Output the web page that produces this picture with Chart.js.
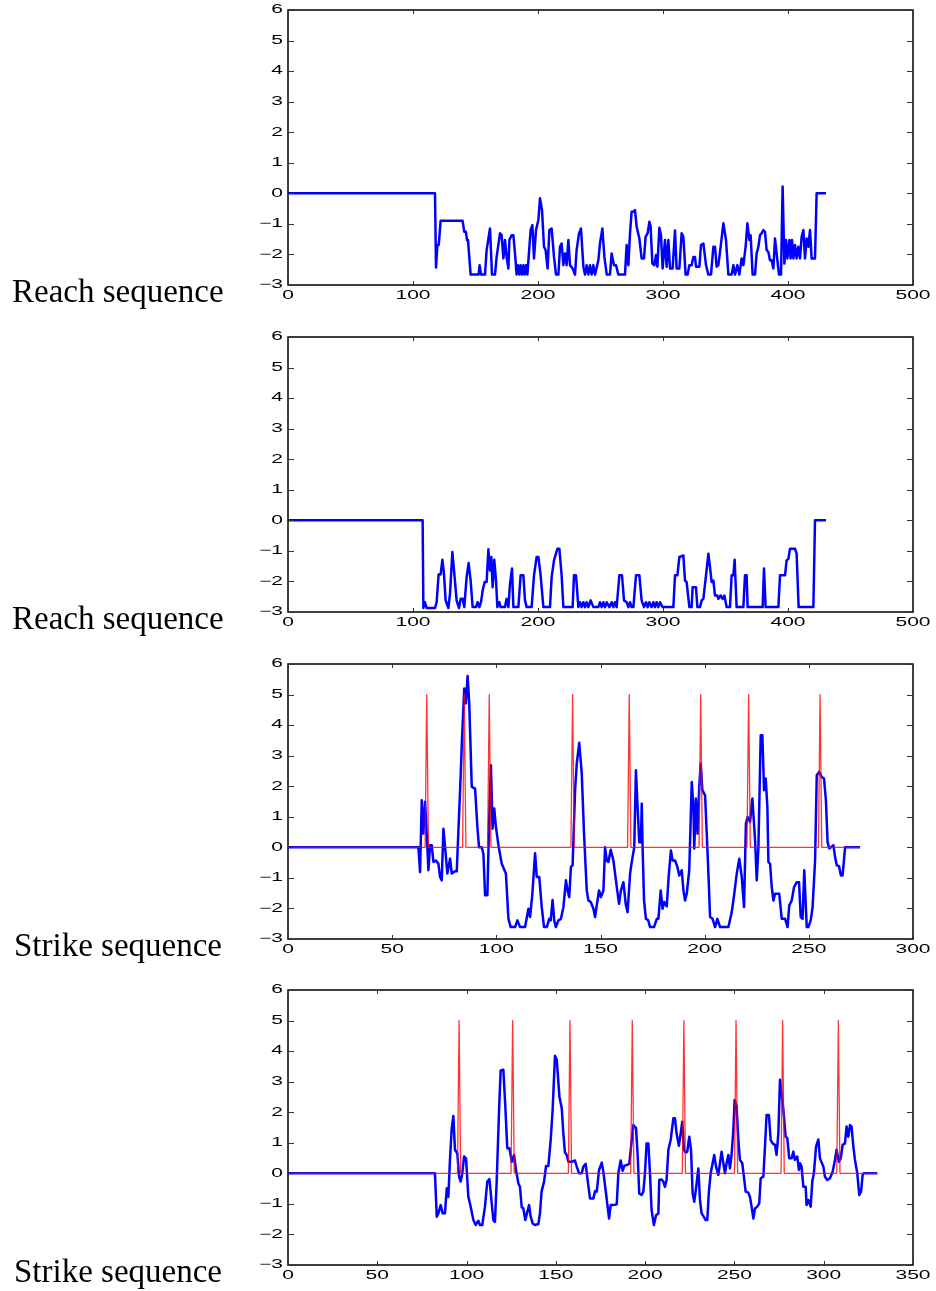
<!DOCTYPE html>
<html>
<head>
<meta charset="utf-8">
<script src="https://cdn.jsdelivr.net/npm/chart.js@4.4.1/dist/chart.umd.min.js"></script>
<style>
  html, body { margin: 0; padding: 0; background: #fff; overflow: hidden; }
  canvas { position: absolute; left: 0; }
</style>
</head>
<body>
<canvas id="c1" width="936" height="320" style="top:0px"></canvas>
<canvas id="c2" width="936" height="320" style="top:327px"></canvas>
<canvas id="c3" width="936" height="320" style="top:654px"></canvas>
<canvas id="c4" width="936" height="320" style="top:980px"></canvas>
<script>
// tick labels
const yTicks = [-3, -2, -1, 0, 1, 2, 3, 4, 5, 6];
const reachXTicks = [0, 100, 200, 300, 400, 500];
const strikeAXTicks = [0, 50, 100, 150, 200, 250, 300];
const strikeBXTicks = [0, 50, 100, 150, 200, 250, 300, 350];

// panel 1 - reach sequence
const reachA = [[0,0],[117.6,0],[118.4,-2.43],[119.5,-1.69],[120.6,-1.69],[122.1,-0.9],[139.7,-0.9],[141.0,-1.26],[142.3,-1.26],[143.2,-1.53],[144.0,-1.53],[146.1,-2.66],[152.5,-2.66],[153.3,-2.35],[154.4,-2.66],[157.6,-2.66],[158.9,-1.86],[161.6,-1.15],[163.2,-2.66],[165.6,-2.66],[166.9,-2.08],[169.6,-1.31],[170.9,-1.37],[172.3,-2.13],[173.6,-1.53],[174.9,-2.08],[176.3,-2.46],[177.1,-1.53],[178.9,-1.37],[180.3,-1.37],[181.6,-1.97],[182.9,-2.66],[184.0,-2.35],[185.1,-2.66],[186.1,-2.35],[187.2,-2.66],[188.3,-2.35],[189.3,-2.66],[190.4,-2.35],[191.5,-2.66],[194.1,-1.2],[195.5,-1.04],[196.8,-2.13],[198.4,-1.2],[200.3,-0.87],[201.6,-0.16],[203.2,-0.55],[204.8,-1.75],[206.1,-1.86],[207.7,-2.46],[209.1,-1.2],[210.9,-1.15],[212.8,-2.08],[214.4,-2.66],[216.3,-2.66],[217.6,-1.75],[218.9,-1.64],[220.3,-2.35],[221.6,-1.97],[222.9,-2.35],[224.3,-1.53],[225.6,-2.35],[227.7,-2.46],[229.6,-2.66],[230.9,-1.86],[232.8,-1.31],[234.4,-1.15],[236.3,-2.4],[237.6,-2.66],[238.9,-2.35],[240.3,-2.66],[241.6,-2.35],[242.9,-2.66],[244.3,-2.35],[245.6,-2.66],[248.3,-2.19],[249.6,-1.64],[251.5,-1.15],[253.1,-2.08],[255.0,-2.66],[257.6,-2.66],[258.9,-1.97],[260.8,-2.35],[262.4,-2.35],[264.3,-2.66],[269.6,-2.66],[270.9,-1.69],[272.3,-2.35],[273.6,-1.31],[274.9,-0.6],[276.3,-0.6],[277.6,-0.55],[278.9,-1.09],[281.1,-1.48],[282.9,-2.13],[284.8,-2.13],[286.1,-1.42],[287.7,-1.31],[289.1,-0.93],[290.1,-1.09],[291.5,-2.3],[293.1,-2.35],[294.4,-2.02],[295.5,-2.4],[297.1,-1.13],[298.4,-1.37],[299.7,-2.46],[301.6,-1.53],[302.9,-2.4],[304.3,-1.53],[305.6,-2.46],[307.7,-2.46],[309.6,-1.22],[310.9,-2.46],[313.1,-2.46],[314.9,-1.31],[316.3,-1.42],[318.1,-2.66],[319.7,-2.66],[321.1,-2.35],[322.9,-2.35],[324.3,-2.08],[325.6,-2.08],[326.4,-2.4],[329.1,-2.4],[330.4,-1.69],[332.3,-1.64],[334.4,-2.35],[336.3,-2.66],[338.4,-2.66],[340.3,-1.75],[341.6,-1.75],[342.9,-2.4],[344.3,-2.35],[346.1,-1.75],[348.3,-0.98],[350.4,-1.53],[352.3,-2.66],[354.9,-2.66],[356.3,-2.35],[357.6,-2.66],[359.5,-2.35],[361.1,-2.66],[362.9,-2.13],[364.3,-2.35],[366.1,-1.75],[367.5,-0.98],[369.1,-1.53],[370.1,-1.37],[371.7,-2.66],[373.6,-2.66],[374.9,-1.97],[376.3,-1.75],[377.6,-1.37],[378.9,-1.31],[380.3,-1.2],[381.6,-1.26],[382.9,-1.86],[384.3,-1.92],[385.6,-2.19],[386.9,-2.19],[388.3,-2.46],[389.6,-1.48],[391.5,-2.19],[392.8,-2.66],[394.4,-2.66],[395.7,0.22],[397.1,-2.3],[398.4,-1.53],[399.5,-2.13],[401.1,-1.53],[402.1,-2.13],[403.2,-1.53],[404.3,-2.13],[405.6,-1.69],[406.9,-2.13],[408.3,-1.75],[409.6,-2.13],[410.9,-1.42],[412.3,-1.2],[413.6,-2.13],[414.9,-1.48],[416.3,-1.75],[417.6,-1.2],[418.9,-2.13],[421.6,-2.13],[422.9,0],[430.4,0]];

// panel 2 - reach sequence
const reachB = [[0,0],[107.7,0],[108.3,-2.87],[109.6,-2.68],[110.9,-2.87],[117.6,-2.87],[118.9,-2.68],[120.5,-1.77],[122.1,-1.77],[123.5,-1.29],[124.8,-1.77],[126.1,-2.62],[128.3,-2.87],[129.6,-2.4],[131.5,-1.04],[133.1,-1.77],[134.9,-2.62],[136.8,-2.87],[138.1,-2.57],[139.7,-2.57],[141.0,-2.84],[142.9,-1.86],[144.5,-1.4],[146.1,-1.97],[147.7,-2.84],[150.4,-2.84],[151.7,-2.68],[153.1,-2.84],[154.4,-2.68],[155.7,-2.3],[157.3,-2.02],[158.9,-2.02],[160.3,-0.95],[161.6,-1.64],[162.7,-1.2],[163.7,-2.19],[165.0,-1.29],[166.4,-1.97],[167.5,-2.84],[169.1,-2.68],[170.1,-2.84],[173.6,-2.84],[174.9,-2.57],[176.3,-2.84],[177.6,-2.08],[179.2,-1.58],[180.3,-2.84],[184.3,-2.84],[186.1,-1.8],[188.3,-1.8],[189.6,-2.62],[190.9,-2.84],[194.9,-2.84],[196.8,-1.8],[198.9,-1.2],[200.3,-1.2],[202.1,-1.8],[204.3,-2.84],[209.6,-2.84],[210.9,-1.86],[212.8,-1.31],[215.5,-0.93],[217.1,-0.93],[218.9,-1.8],[220.3,-2.84],[227.7,-2.84],[228.8,-1.8],[230.4,-1.8],[232.3,-2.84],[233.6,-2.68],[234.9,-2.84],[236.3,-2.68],[237.6,-2.84],[238.9,-2.68],[240.3,-2.84],[242.1,-2.62],[244.3,-2.84],[248.3,-2.84],[249.6,-2.68],[250.9,-2.84],[252.3,-2.68],[253.6,-2.84],[255.0,-2.68],[257.1,-2.84],[258.9,-2.68],[260.3,-2.84],[261.6,-2.68],[262.9,-2.84],[265.1,-1.8],[267.2,-1.8],[268.8,-2.62],[270.9,-2.68],[272.3,-2.84],[273.6,-2.68],[274.9,-2.84],[276.3,-2.84],[278.4,-1.8],[281.1,-1.8],[282.9,-2.62],[284.8,-2.84],[286.4,-2.68],[287.7,-2.84],[289.1,-2.68],[290.9,-2.84],[292.3,-2.68],[293.6,-2.84],[294.9,-2.68],[296.3,-2.84],[297.6,-2.68],[299.7,-2.84],[308.3,-2.84],[309.6,-1.8],[311.5,-1.8],[313.1,-1.2],[316.3,-1.15],[317.6,-1.97],[318.9,-2.02],[321.1,-2.84],[322.9,-2.84],[323.7,-2.19],[326.4,-2.19],[327.5,-2.84],[329.6,-2.84],[330.9,-2.62],[332.3,-2.57],[334.4,-1.8],[336.3,-1.09],[337.6,-1.53],[338.9,-2.02],[340.3,-1.97],[341.6,-2.46],[343.5,-2.46],[344.3,-2.57],[346.1,-2.46],[347.7,-2.57],[349.1,-2.46],[350.9,-2.84],[353.6,-2.84],[354.9,-1.8],[356.3,-1.8],[357.3,-1.29],[358.9,-2.84],[364.3,-2.84],[365.6,-1.8],[366.9,-1.8],[367.7,-2.84],[379.7,-2.84],[380.8,-1.58],[382.1,-2.84],[392.3,-2.84],[393.6,-1.8],[397.6,-1.8],[398.9,-1.31],[400.3,-1.26],[401.6,-0.93],[405.6,-0.93],[406.9,-1.09],[408.5,-2.84],[420.3,-2.84],[421.6,0],[430.4,0]];

// panel 3 - strike sequence (blue trace and red markers)
const strikeA = [[0,0],[62.6,0],[63.4,-0.81],[64.2,1.54],[65.0,0.45],[65.8,1.49],[66.6,0.45],[67.4,-0.75],[68.2,0.07],[69.0,0.07],[69.8,-0.48],[71.0,-0.43],[72.2,-0.54],[73.0,-0.97],[73.8,-1.08],[74.6,0.61],[75.4,0],[76.5,-0.86],[77.8,-0.37],[78.6,-0.86],[80.2,-0.78],[81.0,-0.78],[82.6,1.87],[83.5,3.51],[84.6,5.2],[85.4,4.71],[86.2,5.61],[87.0,4.71],[88.2,1.98],[89.8,1.92],[90.9,0.67],[91.7,0],[93.0,0],[93.8,-0.21],[94.6,-1.57],[95.7,-1.57],[96.6,0.99],[97.4,2.69],[98.2,0.61],[99.0,1.27],[99.8,0.67],[101.0,0.07],[102.6,-0.54],[104.6,-0.86],[105.8,-2.34],[106.9,-2.61],[109.0,-2.61],[110.1,-2.39],[111.4,-2.61],[113.8,-2.61],[115.4,-2.01],[116.2,-2.28],[117.3,-1.52],[118.6,-0.19],[119.4,-0.97],[120.6,-0.97],[121.8,-1.96],[122.9,-2.61],[124.2,-2.61],[125.4,-2.34],[126.1,-2.39],[127.0,-1.72],[127.8,-2.39],[128.6,-2.61],[129.8,-2.39],[131.0,-2.34],[132.2,-1.96],[133.4,-1.08],[134.2,-1.41],[135.0,-1.63],[135.8,-0.64],[136.6,-0.59],[137.8,1.87],[138.6,2.74],[139.8,3.42],[141.0,2.42],[142.1,0.45],[143.4,-1.41],[144.2,-1.74],[145.3,-1.79],[146.6,-2.01],[147.4,-2.28],[148.2,-1.9],[149.3,-1.41],[150.2,-1.63],[151.4,-1.41],[152.2,0],[153.0,-0.43],[153.8,-0.48],[154.9,-0.08],[156.2,-0.43],[157.4,-1.08],[158.9,-1.85],[159.8,-1.41],[161.0,-1.14],[162.1,-1.85],[163.0,-2.12],[164.2,-0.86],[165.0,-0.48],[166.2,0],[167.0,2.52],[167.8,1.32],[168.6,0.17],[169.4,0.17],[169.8,1.43],[170.2,0],[170.9,-1.74],[171.8,-2.34],[172.9,-2.39],[173.8,-2.61],[175.7,-2.61],[177.0,-2.34],[177.8,-2.34],[178.9,-1.41],[179.8,-2.01],[180.6,-1.79],[181.8,-1.93],[182.7,-0.97],[183.8,-0.1],[184.6,-0.43],[185.8,-0.43],[186.9,-0.64],[187.8,-0.92],[189.0,-0.75],[189.8,-1.41],[190.6,-1.74],[191.4,-1.52],[192.6,-0.75],[193.8,2.14],[194.6,1.32],[195.0,-0.04],[195.8,1.6],[196.6,0.45],[197.4,1.98],[198.1,2.74],[198.9,1.87],[200.2,1.7],[201.0,0.45],[201.8,-0.86],[202.6,-2.28],[203.8,-2.34],[205.0,-2.61],[206.1,-2.34],[207.4,-2.61],[211.4,-2.61],[213.0,-2.12],[214.2,-1.52],[215.4,-0.86],[216.6,-0.37],[217.8,-0.97],[218.9,-1.96],[219.8,0.78],[220.6,0.99],[221.8,0.83],[222.9,1.6],[224.2,0.23],[225.0,-1.08],[225.8,0],[226.9,3.67],[227.7,3.67],[228.5,1.87],[229.3,2.25],[230.1,1.32],[230.6,-0.48],[231.4,-0.54],[232.2,-1.3],[233.0,-1.74],[233.8,-1.52],[235.8,-1.52],[237.0,-2.34],[238.6,-2.34],[239.8,-2.61],[240.6,-1.9],[241.8,-1.74],[242.9,-1.3],[244.2,-1.14],[245.3,-1.14],[246.1,-2.28],[247.0,-2.34],[247.8,-0.75],[249.0,-2.61],[249.8,-2.61],[250.9,-2.39],[251.8,-1.96],[253.0,-0.43],[253.8,2.36],[255.0,2.47],[256.2,2.3],[257.3,2.25],[258.2,1.54],[259.0,0.17],[259.8,-0.04],[260.6,0],[261.8,0.07],[262.6,-0.32],[263.4,-0.59],[264.5,-0.62],[265.4,-0.92],[266.2,-0.92],[267.4,0],[274.6,0]];
const strikeAMarks = [[0,0],[65.8,0],[66.6,5],[67.4,0],[83.8,0],[84.6,5],[85.4,0],[95.8,0],[96.6,5],[97.4,0],[135.8,0],[136.6,5],[137.4,0],[163.0,0],[163.8,5],[164.6,0],[197.3,0],[198.1,5],[198.9,0],[220.3,0],[221.1,5],[221.9,0],[254.6,0],[255.4,5],[256.2,0],[274.6,0]];

// panel 4 - strike sequence (blue trace and red markers)
const strikeB = [[0,0],[82.3,0],[83.3,-1.42],[84.2,-1.31],[85.5,-1.04],[86.6,-1.31],[87.9,-1.31],[88.9,-0.49],[89.8,-0.77],[90.7,0.44],[91.7,1.48],[92.6,1.88],[93.5,0.77],[94.8,0.66],[95.8,-0.11],[96.7,-0.27],[97.6,0],[98.6,0.55],[99.7,0.49],[101.0,-0.77],[102.3,-1.09],[103.8,-1.53],[105.1,-1.69],[106.6,-1.55],[107.5,-1.69],[108.8,-1.69],[110.3,-1.09],[111.6,-0.27],[112.8,-0.19],[114.0,-0.93],[115.0,-1.53],[115.9,-1.59],[116.9,-0.22],[118.2,2.08],[119.1,3.37],[120.6,3.39],[121.7,2.19],[122.8,0.82],[124.0,0.82],[125.3,0.38],[126.6,0.6],[127.7,0.11],[129.0,-0.33],[129.9,-0.44],[130.9,-1.11],[131.8,-1.15],[132.9,-1.53],[133.8,-1.31],[135.0,-1.04],[135.9,-1.42],[137.0,-1.64],[138.3,-1.69],[140.2,-1.66],[141.1,-1.31],[142.0,-0.6],[143.4,-0.27],[144.5,0.24],[145.8,0.24],[147.1,1.09],[148.2,2.08],[149.5,3.85],[150.5,3.72],[152.0,2.51],[153.3,2.13],[154.2,1.31],[155.1,0.68],[156.1,0.6],[157.0,0.38],[158.9,0.38],[160.7,0.42],[161.7,0.22],[163.0,0],[164.5,0],[165.4,0.22],[166.7,0.31],[167.8,-0.22],[169.1,-0.82],[171.0,-0.82],[172.0,-0.58],[172.9,-0.6],[174.2,0.11],[175.7,0.35],[176.6,0.05],[178.1,-0.66],[179.8,-1.48],[180.7,-1.04],[182.2,-1.04],[184.1,-1.01],[185.0,0],[186.3,0.42],[187.4,0.08],[188.4,0.25],[189.6,0.27],[191.1,0.31],[192.5,1.09],[193.4,1.58],[194.9,1.48],[195.8,0.6],[196.7,-0.66],[198.0,-0.71],[199.0,-0.6],[199.9,0],[200.8,0.98],[201.8,0.98],[202.7,0],[203.6,-1.2],[204.9,-1.69],[206.1,-1.37],[207.4,-1.31],[207.9,-0.22],[209.2,-0.2],[210.2,-0.27],[211.1,-0.44],[212.0,-0.22],[213.0,0.77],[214.3,1.09],[215.8,1.8],[216.7,1.8],[217.6,1.31],[218.9,0.9],[219.9,1.31],[220.8,1.69],[221.7,0.77],[222.7,0.68],[223.6,0.71],[224.7,1.2],[225.7,0.77],[226.6,-0.66],[227.5,-0.93],[228.5,-0.49],[229.8,0.16],[230.7,-0.87],[231.6,-1.31],[232.6,-1.4],[233.9,-1.53],[234.8,-1.53],[235.7,-0.6],[236.7,0],[237.8,0.33],[238.7,0.6],[239.7,0.22],[241.0,-0.05],[241.9,0.33],[242.8,0.71],[243.8,0.33],[244.7,0],[245.6,0.33],[246.6,0.6],[247.5,0.16],[248.4,0.6],[249.4,1.42],[250.1,2.4],[251.2,2.19],[252.2,1.09],[253.1,0.44],[254.4,0.33],[255.3,-0.11],[256.3,-0.6],[257.8,-0.63],[258.7,-0.77],[259.6,-1.09],[260.6,-1.48],[261.5,-1.15],[262.8,-1.09],[263.9,-0.98],[264.7,-0.16],[266.2,-0.11],[267.1,0.87],[268.0,1.91],[269.3,1.91],[270.3,1.09],[271.4,0.98],[272.7,0.93],[273.6,0.6],[274.6,1.31],[275.5,3.06],[276.4,2.62],[277.4,2.08],[278.7,1.2],[279.6,1.15],[280.7,0.49],[282.0,0.49],[283.0,0.71],[283.9,0.44],[285.2,0.55],[286.1,0.11],[286.7,0.33],[287.6,0.22],[288.6,-0.44],[289.9,-0.44],[290.4,-1.04],[291.4,-0.87],[292.7,-1.09],[293.6,-0.27],[294.5,0],[295.7,0.87],[297.0,1.11],[297.9,0.49],[299.8,0.22],[300.7,-0.11],[302.0,-0.22],[303.5,-0.16],[305.0,0.05],[306.3,0.44],[307.2,0.77],[308.5,0.38],[309.5,0.49],[310.6,0.93],[311.9,0.98],[312.8,1.53],[313.8,1.2],[314.7,1.58],[315.6,1.53],[316.6,0.87],[317.5,0.44],[318.8,0],[319.9,-0.71],[320.9,-0.6],[321.8,-0.05],[322.5,0],[330.0,0]];
const strikeBMarks = [[0,0],[94.9,0],[95.8,5],[96.7,0],[124.9,0],[125.8,5],[126.7,0],[157.0,0],[157.9,5],[158.8,0],[191.9,0],[192.8,5],[193.7,0],[220.8,0],[221.7,5],[222.6,0],[250.0,0],[250.9,5],[251.8,0],[276.1,0],[277.0,5],[277.9,0],[307.3,0],[308.2,5],[309.1,0],[330,0]];

function fmt(v) {
    return v < 0 ? '\u2212' + Math.abs(v) : String(v);
}

// stretched tick text like the original export
function wideText(ctx, txt, x, y, align, base) {
    ctx.save();
    ctx.translate(x, y);
    ctx.scale(1.75, 1);
    ctx.textAlign = align;
    ctx.textBaseline = base;
    ctx.fillText(txt, 0, 0);
    ctx.restore();
}

const boxPlugin = {
    id: 'box',
    afterDraw(chart, args, opts) {
        const ctx = chart.ctx;
        const a = chart.chartArea;
        const xs = chart.scales.x, ys = chart.scales.y;
        ctx.save();
        ctx.strokeStyle = '#000';
        ctx.lineWidth = 1.5;
        ctx.strokeRect(a.left, a.top, a.right - a.left, a.bottom - a.top);

        ctx.strokeStyle = '#333';
        ctx.lineWidth = 1;
        ctx.beginPath();
        opts.xTicks.forEach(v => {
            const px = Math.round(xs.getPixelForValue(v)) + 0.5;
            ctx.moveTo(px, a.bottom); ctx.lineTo(px, a.bottom - 4);
            ctx.moveTo(px, a.top); ctx.lineTo(px, a.top + 4);
        });
        yTicks.forEach(v => {
            const py = Math.round(ys.getPixelForValue(v)) + 0.5;
            ctx.moveTo(a.left, py); ctx.lineTo(a.left + 6, py);
            ctx.moveTo(a.right, py); ctx.lineTo(a.right - 6, py);
        });
        ctx.stroke();

        ctx.fillStyle = '#000';
        ctx.font = '12px "Liberation Sans"';
        yTicks.forEach(v => {
            wideText(ctx, fmt(v), a.left - 5, ys.getPixelForValue(v), 'right', 'middle');
        });
        opts.xTicks.forEach(v => {
            wideText(ctx, fmt(v), xs.getPixelForValue(v), a.bottom + 5, 'center', 'top');
        });

        ctx.font = '33px "Liberation Serif"';
        ctx.textAlign = 'left';
        ctx.textBaseline = 'alphabetic';
        ctx.fillText(opts.title, opts.titleX, 302);
        ctx.restore();
    }
};

function toXY(pairs) {
    return pairs.map(p => ({ x: p[0], y: p[1] }));
}

function makePanel(id, title, titleX, xMax, xTicks, blue, red) {
    const datasets = [];
    if (red) {
        datasets.push({
            data: toXY(red),
            borderColor: 'rgba(255, 0, 0, 0.8)',
            borderWidth: 1.3,
            borderJoinStyle: 'round',
            pointRadius: 0,
            tension: 0
        });
    }
    datasets.push({
        data: toXY(blue),
        borderColor: '#0000ff',
        borderWidth: 2.5,
        borderJoinStyle: 'round',
        pointRadius: 0,
        tension: 0
    });

    new Chart(document.getElementById(id), {
        type: 'line',
        data: { datasets: datasets },
        options: {
            responsive: false,
            animation: false,
            devicePixelRatio: 1,
            layout: { padding: { top: 10, right: 23, left: 0, bottom: 0 } },
            plugins: {
                legend: { display: false },
                tooltip: { enabled: false },
                box: { xTicks: xTicks, title: title, titleX: titleX }
            },
            scales: {
                x: {
                    type: 'linear',
                    min: 0,
                    max: xMax,
                    ticks: { display: false },
                    grid: { display: false },
                    border: { display: false },
                    afterFit: s => { s.height = 35; }
                },
                y: {
                    min: -3,
                    max: 6,
                    ticks: { display: false },
                    grid: { display: false },
                    border: { display: false },
                    afterFit: s => { s.width = 288; }
                }
            }
        },
        plugins: [boxPlugin]
    });
}

makePanel('c1', 'Reach sequence', 12, 500, reachXTicks, reachA, null);
makePanel('c2', 'Reach sequence', 12, 500, reachXTicks, reachB, null);
makePanel('c3', 'Strike sequence', 14, 300, strikeAXTicks, strikeA, strikeAMarks);
makePanel('c4', 'Strike sequence', 14, 350, strikeBXTicks, strikeB, strikeBMarks);
</script>
</body>
</html>
